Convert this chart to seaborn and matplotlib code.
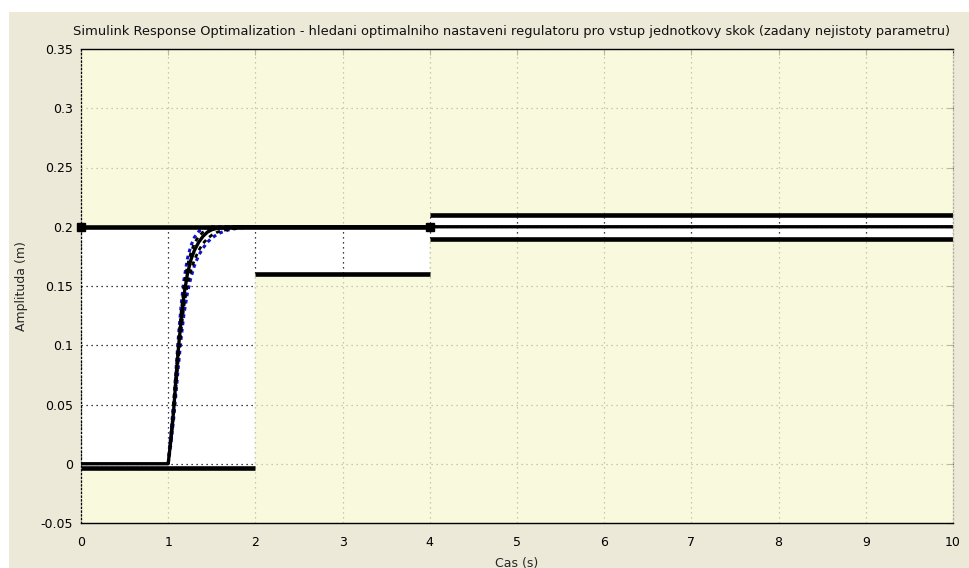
import numpy as np
import pandas as pd
import matplotlib
matplotlib.use("Agg")
import matplotlib.pyplot as plt
import seaborn as sns
from matplotlib.patches import Rectangle

# ---------------- data ----------------
title = ("Simulink Response Optimalization - hledani optimalniho nastaveni "
         "regulatoru pro vstup jednotkovy skok (zadany nejistoty parametru)")
xlabel = "Cas (s)"
ylabel = "Amplituda (m)"

x_ticks = [0, 1, 2, 3, 4, 5, 6, 7, 8, 9, 10]
y_ticks = [-0.05, 0, 0.05, 0.1, 0.15, 0.2, 0.25, 0.3, 0.35]
y_tick_labels = ["-0.05", "0", "0.05", "0.1", "0.15", "0.2", "0.25", "0.3", "0.35"]

# constraint bounds (segment start, segment end, level)
upper_start = [0, 4]
upper_end = [4, 10]
upper_level = [0.2, 0.21]
lower_start = [0, 2, 4]
lower_end = [2, 4, 10]
lower_level = [-0.004, 0.16, 0.19]

# nominal step response
t_nom = [0, 1.0, 1.03, 1.06, 1.09, 1.12, 1.15, 1.18, 1.22, 1.26, 1.30, 1.35,
         1.40, 1.45, 1.50, 1.55, 1.60, 1.70, 1.80, 1.90, 2.0, 10]
y_nominal = [0, 0, 0.020, 0.043, 0.072, 0.100, 0.122, 0.142, 0.160, 0.172,
             0.180, 0.187, 0.192, 0.1955, 0.1975, 0.1985, 0.199, 0.1997,
             0.2, 0.2, 0.2, 0.2]

# responses for uncertain parameter variants (rising part)
t_var = [1.0, 1.03, 1.06, 1.09, 1.12, 1.15, 1.18, 1.22, 1.26, 1.30, 1.35,
         1.40, 1.45, 1.50, 1.55, 1.60, 1.70, 1.80, 1.90, 2.0]
y_fast_blue = [0, 0.025, 0.050, 0.080, 0.110, 0.135, 0.155, 0.173, 0.184,
               0.191, 0.196, 0.1985, 0.1995, 0.2, 0.2, 0.2, 0.2, 0.2, 0.2, 0.2]
y_fast_dash = [0, 0.022, 0.047, 0.076, 0.105, 0.129, 0.149, 0.167, 0.178,
               0.186, 0.192, 0.1955, 0.1975, 0.1988, 0.1995, 0.2, 0.2, 0.2,
               0.2, 0.2]
y_slow_dash = [0, 0.018, 0.040, 0.066, 0.092, 0.114, 0.133, 0.151, 0.163,
               0.172, 0.180, 0.186, 0.190, 0.193, 0.195, 0.1965, 0.198,
               0.199, 0.1995, 0.2]
y_slow_blue = [0, 0.016, 0.036, 0.060, 0.085, 0.107, 0.126, 0.144, 0.157,
               0.167, 0.176, 0.182, 0.187, 0.1905, 0.193, 0.195, 0.1975,
               0.1988, 0.1995, 0.2]

# ---------------- style ----------------
sns.set_style("white")
plt.rcParams["font.family"] = ["DejaVu Sans"]

fig = plt.figure(figsize=(9.69, 5.68), dpi=100, facecolor="white")
fig.patches.append(Rectangle((9 / 969, 0), 1, 556 / 568, transform=fig.transFigure,
                             facecolor="#ECE9D8", edgecolor="none", zorder=-10))

ax = fig.add_axes([81 / 969, (568 - 523) / 568, (953 - 81) / 969, (523 - 49) / 568])
ax.set_facecolor("white")
ax.set_xlim(0, 10)
ax.set_ylim(-0.05, 0.35)

# grid (dotted), drawn below the constraint patches
for xv in x_ticks:
    ax.axvline(xv, color="black", lw=0.9, ls=(0, (1, 3)), zorder=0.5)
for yv in y_ticks:
    ax.axhline(yv, color="black", lw=0.9, ls=(0, (1, 3)), zorder=0.5)

yellow = (248 / 255, 248 / 255, 211 / 255)
for s, e, lv in zip(upper_start, upper_end, upper_level):
    ax.fill_between([s, e], [lv, lv], [0.35, 0.35], color=yellow, alpha=0.75,
                    lw=0, zorder=1)
for s, e, lv in zip(lower_start, lower_end, lower_level):
    ax.fill_between([s, e], [-0.05, -0.05], [lv, lv], color=yellow, alpha=0.75,
                    lw=0, zorder=1)

# responses
n = len(t_var)
df = pd.DataFrame({"t": t_var * 4,
                   "y": y_slow_blue + y_fast_blue + y_slow_dash + y_fast_dash,
                   "case": (["slow_blue"] * n + ["fast_blue"] * n +
                            ["slow_dash"] * n + ["fast_dash"] * n)})
for name, color, lw, ls in [("slow_blue", "#1010C8", 2.2, (0, (1.2, 1.2))),
                            ("fast_blue", "#1010C8", 2.2, (0, (1.2, 1.2))),
                            ("slow_dash", "black", 2.0, (0, (1.5, 1.5))),
                            ("fast_dash", "black", 2.0, (0, (1.5, 1.5)))]:
    sub = df[df["case"] == name]
    sns.lineplot(data=sub, x="t", y="y", ax=ax, color=color, lw=lw,
                 linestyle=ls, zorder=3, estimator=None, sort=False)
df_nom = pd.DataFrame({"t": t_nom, "y": y_nominal})
sns.lineplot(data=df_nom, x="t", y="y", ax=ax, color="black", lw=2.4,
             zorder=3.5, estimator=None, sort=False)

# bound lines
for s, e, lv in zip(upper_start, upper_end, upper_level):
    ax.plot([s, e], [lv, lv], color="black", lw=3.3, solid_capstyle="butt", zorder=4)
for s, e, lv in zip(lower_start, lower_end, lower_level):
    ax.plot([s, e], [lv, lv], color="black", lw=3.3, solid_capstyle="butt", zorder=4)
ax.plot([upper_start[0], upper_end[0]], [upper_level[0], upper_level[0]],
        ls="none", marker="s", ms=6, color="black", zorder=5, clip_on=False)

# axes decoration
ax.set_xticks(x_ticks)
ax.set_xticklabels([str(v) for v in x_ticks])
ax.set_yticks(y_ticks)
ax.set_yticklabels(y_tick_labels)
ax.tick_params(direction="in", length=4, width=0.8, colors="black",
               labelsize=9, top=True, right=True, pad=6)
ax.tick_params(axis="x", pad=9)
for side in ["top", "bottom"]:
    ax.spines[side].set_color("black")
    ax.spines[side].set_linewidth(1.0)
ax.spines["left"].set_color("black")
ax.spines["left"].set_linewidth(0.9)
ax.spines["left"].set_linestyle((0, (1, 2)))
ax.spines["right"].set_color("#B0B0A0")
ax.spines["right"].set_linewidth(0.9)
ax.spines["right"].set_linestyle((0, (1, 2)))
for sp in ax.spines.values():
    sp.set_zorder(6)
    sp.set_visible(True)

ax.set_xlabel(xlabel, fontsize=9, labelpad=6)
ax.set_ylabel(ylabel, fontsize=9, labelpad=9)
fig.text(512 / 969, 1 - 31 / 568, title, fontsize=9.4, ha="center", va="center",
         color="#111111")

fig.savefig("out.png", dpi=100, facecolor=fig.get_facecolor())
